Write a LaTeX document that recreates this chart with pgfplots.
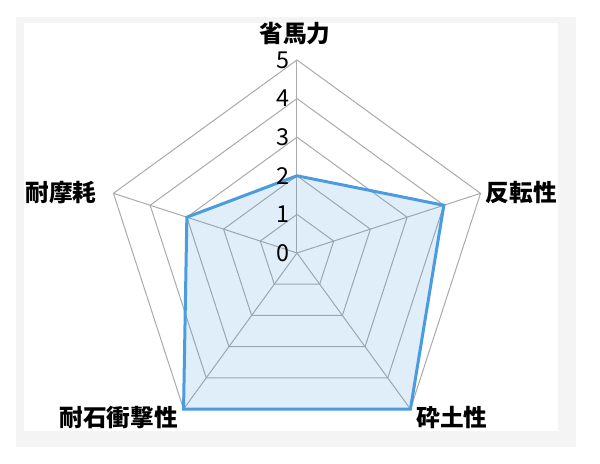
\documentclass[border=0pt]{standalone}
\usepackage{fontspec}
\setmainfont{Noto Sans CJK JP}
\usepackage{pgfplots}
\pgfplotsset{compat=1.18}

\definecolor{gridgray}{RGB}{170,170,170}
\definecolor{lineblue}{RGB}{74,156,222}
\definecolor{framegray}{RGB}{244,244,244}

\tikzset{spoke/.style={draw=gridgray, line width=0.6pt}}
\tikzset{lab/.style={font=\fontsize{14.2}{16}\selectfont\bfseries, inner sep=0pt}}
\tikzset{num/.style={font=\fontsize{14}{16}\selectfont, inner sep=0pt, anchor=east}}

\begin{document}
\begin{tikzpicture}
\begin{axis}[
    x=23.16pt, y=23.16pt,
    xmin=-7.694, xmax=7.850,
    ymin=-5.466, ymax=6.554,
    hide axis,
    clip=false,
]
    % background and frame
    \fill[white] (axis cs:-7.694,-5.466) rectangle (axis cs:7.850,6.554);
    \fill[framegray] (axis cs:-7.280,-5.026) rectangle (axis cs:7.228,6.114);
    \fill[white] (axis cs:-7.073,-4.611) rectangle (axis cs:6.762,5.959);

    % pentagon rings
    \pgfplotsinvokeforeach{1,2,3,4,5}{
        \addplot[spoke, data cs=polar] coordinates {
            (90,#1) (18,#1) (-54,#1) (-126,#1) (162,#1)
        } -- cycle;
    }
    % spokes
    \pgfplotsinvokeforeach{90,18,-54,-126,162}{
        \addplot[spoke, data cs=polar] coordinates {(#1,0) (#1,5)};
    }

    % data
    \addplot[data cs=polar, draw=lineblue, line width=1.8pt,
             fill=lineblue, fill opacity=0.17] coordinates {
        (90,2) (18,4) (-54,5) (-126,5) (162,3)
    } -- cycle;

    % scale numbers
    \pgfplotsinvokeforeach{0,1,2,3,4,5}{
        \node[num] at (axis cs:-0.181,#1) {#1};
    }

    % category labels
    \node[lab] at (axis cs:-0.052,5.674) {省馬力};
    \node[lab] at (axis cs:5.816,1.567) {反転性};
    \node[lab] at (axis cs:4.016,-4.262) {砕土性};
    \node[lab] at (axis cs:-4.624,-4.262) {耐石衝撃性};
    \node[lab] at (axis cs:-6.114,1.554) {耐摩耗};
\end{axis}
\end{tikzpicture}
\end{document}
